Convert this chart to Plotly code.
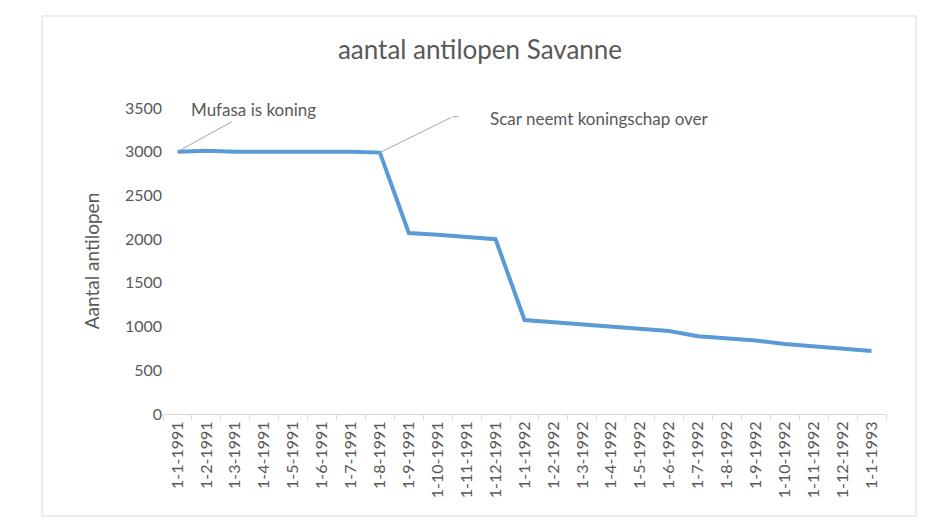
import plotly.graph_objects as go

categories = [
    "1-1-1991", "1-2-1991", "1-3-1991", "1-4-1991", "1-5-1991", "1-6-1991",
    "1-7-1991", "1-8-1991", "1-9-1991", "1-10-1991", "1-11-1991", "1-12-1991",
    "1-1-1992", "1-2-1992", "1-3-1992", "1-4-1992", "1-5-1992", "1-6-1992",
    "1-7-1992", "1-8-1992", "1-9-1992", "1-10-1992", "1-11-1992", "1-12-1992",
    "1-1-1993",
]
antilopen = [
    3000, 3010, 3000, 3000, 3000, 3010, 3000, 2990,
    2070, 2050, 2025, 2000,
    1075, 1050, 1025, 1000, 980, 950, 890, 870, 840, 800, 775, 750, 720,
]
y_ticks = [0, 500, 1000, 1500, 2000, 2500, 3000, 3500]

title_text = "aantal antilopen Savanne"
y_title = "Aantal antilopen"
note_mufasa = "Mufasa is koning"
note_scar = "Scar neemt koningschap over"

FONT = "Lato"
GREY = "#595959"

# page offset (body margin)
OFF = 8

fig = go.Figure()
fig.add_trace(go.Scatter(
    x=categories, y=antilopen, mode="lines",
    line=dict(color="#5B9BD5", width=4),
    hoverinfo="x+y", showlegend=False,
))

W, H = 945 - OFF, 531 - OFF
L, T = 163 - OFF, 108 - OFF
R = W - (886 - OFF)
B = H - (414 - OFF)
pw, ph = W - L - R, H - T - B

fig.update_layout(
    width=W, height=H,
    margin=dict(l=L, r=R, t=T, b=B),
    paper_bgcolor="white", plot_bgcolor="white",
    font=dict(family=FONT, color=GREY, size=16),
    title=dict(text=title_text, x=(480 - OFF) / W, xanchor="center",
               y=1 - (50 - OFF) / H, yanchor="middle",
               font=dict(family=FONT, size=26, color=GREY)),
    xaxis=dict(
        type="category", tickangle=-90, showgrid=False, zeroline=False,
        showline=True, linecolor="#d9d9d9", linewidth=1,
        ticks="outside", tickson="boundaries", ticklen=5, tickcolor="#d9d9d9",
        tickfont=dict(family=FONT, size=16, color=GREY),
        range=[-0.5, len(categories) - 0.5],
    ),
    yaxis=dict(
        range=[0, 3500], tickvals=y_ticks, showgrid=False, zeroline=False,
        showline=False, ticks="", tickfont=dict(family=FONT, size=16, color=GREY),
        title=dict(text=y_title, font=dict(family=FONT, size=19, color=GREY), standoff=20),
    ),
    shapes=[dict(
        type="rect", xref="paper", yref="paper",
        x0=(42 - 163) / pw, x1=(916 - 163) / pw,
        y0=(414 - 516) / ph, y1=(414 - 16) / ph,
        line=dict(color="#d9d9d9", width=1), fillcolor="rgba(0,0,0,0)", layer="below",
    )],
)

fig.add_annotation(
    x=categories[0], y=antilopen[0], xref="x", yref="y",
    text=note_mufasa, showarrow=True, arrowhead=0, arrowwidth=1, arrowcolor="#a6a6a6",
    ax=76, ay=-42, font=dict(family=FONT, size=17, color=GREY),
)
fig.add_annotation(
    x=categories[7], y=antilopen[7], xref="x", yref="y",
    text="", showarrow=True, arrowhead=0, arrowwidth=1, arrowcolor="#a6a6a6",
    ax=73, ay=-36,
)
fig.add_annotation(
    x=categories[7], y=antilopen[7], xref="x", yref="y",
    text="", showarrow=True, arrowhead=0, arrowwidth=1, arrowcolor="#a6a6a6",
    xshift=73, yshift=36, ax=7, ay=0,
)
fig.add_annotation(
    x=categories[7], y=antilopen[7], xref="x", yref="y",
    text=note_scar, showarrow=False, xanchor="left", yanchor="middle",
    xshift=108, yshift=34, font=dict(family=FONT, size=17, color=GREY),
)

fig.write_html("out.html")
